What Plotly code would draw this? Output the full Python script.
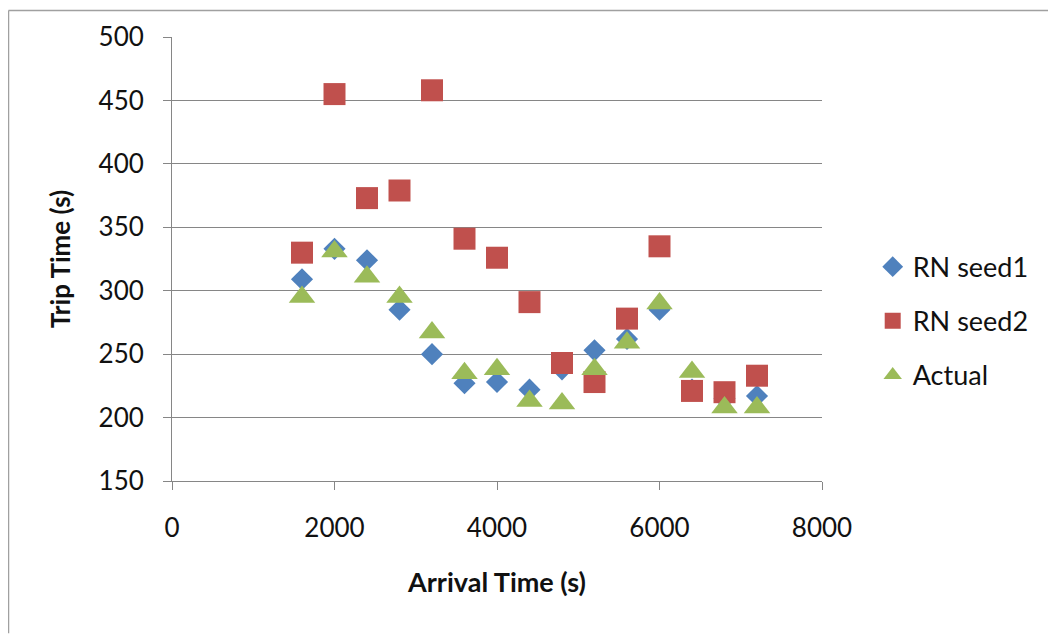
import plotly.graph_objects as go

arrival = [1600, 2000, 2400, 2800, 3200, 3600, 4000, 4400, 4800, 5200, 5600, 6000, 6400, 6800, 7200]
rn_seed1 = [309, 333, 324, 285, 250, 227, 228, 222, 238, 253, 262, 285, 222, 215, 217]
rn_seed2 = [330, 455, 373, 379, 458, 341, 326, 291, 243, 228, 278, 335, 221, 220, 233]
actual = [295, 331, 311, 295, 267, 235, 238, 213, 211, 238, 259, 290, 236, 208, 208]

x_ticks = [0, 2000, 4000, 6000, 8000]
y_ticks = [150, 200, 250, 300, 350, 400, 450, 500]

FONT = "Lato, 'Open Sans', sans-serif"
TXT = "#111111"

W, H = 1048, 626
L, T, R, B = 164, 27, 234, 153
PW, PH = W - L - R, H - T - B

fig = go.Figure()
fig.add_trace(go.Scatter(x=arrival, y=rn_seed1, mode="markers", name="RN seed1",
                         legendgroup="a",
                         marker=dict(symbol="diamond", size=17, color="#4F81BD")))
fig.add_trace(go.Scatter(x=arrival, y=rn_seed2, mode="markers", name="RN seed2",
                         legendgroup="b",
                         marker=dict(symbol="square", size=22, color="#C0504D")))
fig.add_trace(go.Scatter(x=arrival, y=actual, mode="markers", name="Actual",
                         legendgroup="c",
                         marker=dict(symbol="triangle-up", size=23, color="#9BBB59")))

fig.update_layout(
    width=W, height=H,
    margin=dict(l=L, r=R, t=T, b=B, pad=0),
    paper_bgcolor="white", plot_bgcolor="white",
    font=dict(family=FONT, color=TXT),
    showlegend=True,
    legend=dict(x=1.078, y=0.36, xanchor="left", yanchor="middle",
                font=dict(size=27, family=FONT, color=TXT),
                tracegroupgap=16, bgcolor="rgba(0,0,0,0)"),
    xaxis=dict(range=[0, 8000], tickvals=x_ticks, ticktext=[str(v) for v in x_ticks],
               showgrid=False, zeroline=False, showline=True, linecolor="#868686", linewidth=1,
               ticks="outside", ticklen=8, tickcolor="#868686",
               ticklabelstandoff=16,
               tickfont=dict(size=26, family=FONT, color=TXT),
               title=dict(text="<b>Arrival Time (s)</b>", font=dict(size=27, family=FONT, color=TXT),
                          standoff=30)),
    yaxis=dict(range=[150, 500], tickvals=y_ticks, ticktext=[str(v) for v in y_ticks],
               showgrid=True, gridcolor="#868686", gridwidth=1.3,
               zeroline=False, showline=True, linecolor="#868686", linewidth=1,
               ticks="outside", ticklen=8, tickcolor="#868686",
               ticklabelstandoff=14,
               tickfont=dict(size=26, family=FONT, color=TXT),
               title=dict(text="<b>Trip Time (s)</b>", font=dict(size=26, family=FONT, color=TXT),
                          standoff=20)),
)

# outer chart frame (left and top edges visible)
fx = (0.5 - L) / PW
fy = 1 + (T - 0.5) / PH
fig.add_shape(type="line", xref="paper", yref="paper", x0=fx, x1=fx, y0=-B / PH, y1=fy,
              line=dict(color="#A0A0A0", width=1.5))
fig.add_shape(type="line", xref="paper", yref="paper", x0=fx, x1=1 + R / PW, y0=fy, y1=fy,
              line=dict(color="#A0A0A0", width=1.5))

fig.write_html("out.html")
